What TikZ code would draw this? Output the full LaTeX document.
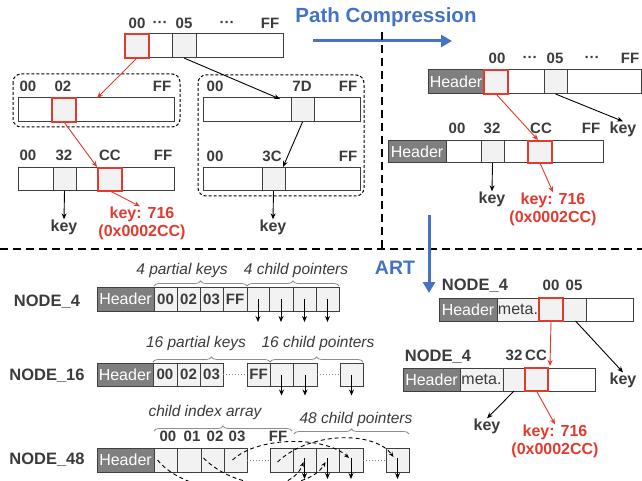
\documentclass[tikz,border=0pt]{standalone}
\usepackage{fontspec}
\setmainfont{Liberation Sans}
\usetikzlibrary{arrows.meta,decorations.pathreplacing}
\definecolor{bordc}{HTML}{3F3F3F}
\definecolor{lgrey}{HTML}{F2F2F2}
\definecolor{hgrey}{HTML}{7F7F7F}
\definecolor{txtc}{HTML}{3B3B3B}
\definecolor{myred}{RGB}{226,58,47}
\definecolor{blueC}{HTML}{4472C4}
\definecolor{bracec}{HTML}{8C8C8C}
\newcommand\bx[7]{\node[#6,minimum width={(#3-#2)*1pt},minimum height={(#5-#4)*1pt}] (#1) at ({(#2+#3)/2},{(#4+#5)/2}) {#7};}
\tikzset{
 cellb/.style={draw=bordc,line width=1pt,fill=white,inner sep=0pt,outer sep=0pt},
 gcell/.style={cellb,fill=lgrey},
 rcell/.style={cellb,fill=lgrey,draw=myred,line width=2pt},
 hdr/.style={cellb,fill=hgrey,text=white,font=\fontsize{16}{18}\selectfont},
 meta/.style={cellb,fill=lgrey,text=txtc,font=\fontsize{16}{18}\selectfont},
 kcell/.style={gcell,text=txtc,font=\fontsize{15}{17}\selectfont\bfseries},
 lbl/.style={font=\fontsize{15}{17}\selectfont\bfseries,text=txtc,inner sep=0pt},
 klbl/.style={font=\fontsize{16}{18}\selectfont\bfseries,text=txtc,inner sep=0pt},
 rlbl/.style={font=\fontsize{16}{18}\selectfont\bfseries,text=myred,inner sep=0pt,align=center},
 nlbl/.style={font=\fontsize{16.5}{18}\selectfont\bfseries,text=txtc,inner sep=0pt},
 ilbl/.style={font=\fontsize{15.5}{18}\selectfont\itshape,text=txtc,inner sep=0pt},
 ttl/.style={font=\fontsize{20.5}{22}\selectfont\bfseries,text=blueC,inner sep=0pt},
 arr/.style={-{Stealth[length=6pt,width=5pt]},line width=0.9pt,black},
 rarr/.style={arr,myred},
 brc/.style={decorate,decoration={brace,amplitude=5pt},draw=bracec,line width=0.8pt},
 dbox/.style={draw=black,dash pattern=on 3pt off 2pt,rounded corners=8pt,line width=1pt},
 sep/.style={line width=2.5pt,dash pattern=on 8pt off 5pt,black},
 barr/.style={-{Triangle[length=11pt,width=12pt]},line width=3pt,blueC},
 dcurve/.style={dash pattern=on 4pt off 3pt,line width=0.9pt,-{Stealth[length=5pt,width=4pt]}},
 dotl/.style={dash pattern=on 1pt off 2pt,line width=1pt,draw=gray},
}
\begin{document}
\begin{tikzpicture}[x=1pt,y=-1pt]
\path[use as bounding box,fill=white] (0,0) rectangle (642,481);

% ---------- top-left: uncompressed trie ----------
\node[lbl] (a1) at (137,23) {00};
\node[lbl] (a2) at (160,24) {···};
\node[lbl] (a3) at (184,23) {05};
\node[lbl] (a4) at (227,24) {···};
\node[lbl] (a5) at (270,23) {FF};
\bx{r}{125}{283}{34}{58}{cellb}{}
\bx{r05}{172}{196}{34}{58}{gcell}{}
\bx{r00}{125}{149}{34}{58}{rcell}{}

\draw[dbox] (13,74) rectangle (180,127);
\node[lbl] (b1) at (28,86) {00};
\node[lbl] (b2) at (63,86) {02};
\node[lbl] (b3) at (162,86) {FF};
\bx{L1}{18}{174}{98}{122}{cellb}{}
\bx{L1r}{52}{76}{98}{122}{rcell}{}

\node[lbl] (c1) at (28,155) {00};
\node[lbl] (c2) at (64,155) {32};
\node[lbl] (c3) at (110,155) {CC};
\node[lbl] (c4) at (163,155) {FF};
\bx{L2}{18}{174}{168}{191}{cellb}{}
\bx{L2g}{53}{76}{168}{191}{gcell}{}
\bx{L2r}{98}{122}{168}{191}{rcell}{}

\draw[dbox] (198,75) rectangle (364,196);
\node[lbl] (d1) at (215,86) {00};
\node[lbl] (d2) at (302,86) {7D};
\node[lbl] (d3) at (348,86) {FF};
\bx{R1}{203}{360}{98}{122}{cellb}{}
\bx{R1g}{291}{314}{98}{122}{gcell}{}
\node[lbl] (e1) at (215,156) {00};
\node[lbl] (e2) at (272,156) {3C};
\node[lbl] (e3) at (348,156) {FF};
\bx{R2}{203}{360}{168}{191}{cellb}{}
\bx{R2g}{262}{285}{168}{191}{gcell}{}

\coordinate (L1in) at (97,98);
\coordinate (R1in) at (280,99);
\coordinate (L2in) at (97,167);
\coordinate (R2in) at (283,167);
\draw[rarr] (r00.south) -- (L1in);
\draw[arr] (r05.south) -- (R1in);
\draw[rarr] (L1r.south) -- (L2in);
\draw[arr] (R1g.south) -- (R2in);
\node[klbl] (k1) at (64,227) {key};
\draw[arr] (L2g.south) -- (k1.north);
\node[klbl] (k2) at (273,227) {key};
\draw[arr] (R2g.south) -- (k2.north);
\node[rlbl] (v1) at (142,223) {key: 716\\(0x0002CC)};
\draw[rarr] (L2r.south) -- ([xshift=-2pt]v1.north);

% ---------- separators and titles ----------
\node[ttl] (pc) at (386,17) {Path Compression};
\coordinate (pcA) at (313,41);
\coordinate (pcB) at (452,41);
\draw[barr] (pcA) -- (pcB);
\coordinate (vs1) at (382,32);
\coordinate (vs2) at (382,249);
\draw[sep] (vs1) -- (vs2);
\coordinate (hs1) at (0,249);
\coordinate (hs2) at (642,249);
\draw[sep] (hs1) -- (hs2);
\node[ttl,font=\fontsize{19.5}{22}\selectfont\bfseries] (art) at (395,268) {ART};
\coordinate (artA) at (429,215);
\coordinate (artB) at (429,293);
\draw[barr] (artA) -- (artB);

% ---------- top-right: path compression ----------
\node[lbl] (f1) at (497,58) {00};
\node[lbl] (f2) at (530,59) {···};
\node[lbl] (f3) at (555,58) {05};
\node[lbl] (f4) at (592,59) {···};
\node[lbl] (f5) at (630,58) {FF};
\bx{T1}{428}{641}{70}{94}{cellb}{}
\bx{T1h}{428}{484}{70}{94}{hdr}{Header}
\bx{T1g}{544}{567}{70}{94}{gcell}{}
\bx{T1r}{484}{508}{70}{94}{rcell}{}

\node[lbl] (g1) at (457,128) {00};
\node[lbl] (g2) at (492,128) {32};
\node[lbl] (g3) at (541,128) {CC};
\node[lbl] (g4) at (591,128) {FF};
\bx{T2}{388}{603}{141}{163}{cellb}{}
\bx{T2h}{388}{446}{141}{163}{hdr}{Header}
\bx{T2g}{481}{504}{141}{163}{gcell}{}
\bx{T2r}{528}{552}{141}{163}{rcell}{}

\node[klbl] (k3) at (623,129) {key};
\draw[arr] (T1g.south) -- (k3.north);
\coordinate (T2in) at (538,140);
\draw[rarr] (T1r.south) -- (T2in);
\node[klbl] (k4) at (492,199) {key};
\draw[arr] (T2g.south) -- (k4.north);
\node[rlbl] (v2) at (553,209) {key: 716\\(0x0002CC)};
\draw[rarr] (T2r.south) -- (v2.north);

% ---------- bottom-right: ART ----------
\node[nlbl] (n1) at (475,286) {NODE\_4};
\node[lbl] (h1) at (551,285) {00};
\node[lbl] (h2) at (574,285) {05};
\bx{B1}{439}{633}{298}{321}{cellb}{}
\bx{B1h}{439}{497}{298}{321}{hdr}{Header}
\bx{B1m}{497}{539}{298}{321}{meta}{meta.}
\bx{B1g}{563}{586}{298}{321}{gcell}{}
\bx{B1r}{539}{563}{298}{321}{rcell}{}

\node[nlbl] (n2) at (438,357) {NODE\_4};
\node[lbl] (h3) at (514,355) {32};
\node[lbl] (h4) at (536,355) {CC};
\bx{B2}{403}{595}{368}{391}{cellb}{}
\bx{B2h}{403}{460}{368}{391}{hdr}{Header}
\bx{B2m}{460}{503}{368}{391}{meta}{meta.}
\bx{B2g}{503}{525}{368}{391}{gcell}{}
\bx{B2r}{525}{548}{368}{391}{rcell}{}

\coordinate (B2in) at (550,366);
\draw[rarr] (B1r.south) -- (B2in);
\node[klbl] (k5) at (623,380) {key};
\draw[arr] ([xshift=1pt]B1g.south) -- (k5.north);
\node[klbl] (k6) at (487,426) {key};
\draw[arr] (B2g.south) -- (k6.north);
\node[rlbl] (v3) at (555,441) {key: 716\\(0x0002CC)};
\draw[rarr] (B2r.south) -- (v3.north);

% ---------- bottom-left: node types ----------
% NODE_4
\node[nlbl] (m1) at (47,302) {NODE\_4};
\bx{N4}{97}{339}{287}{311}{cellb}{}
\bx{N4h}{97}{154}{287}{311}{hdr}{Header}
\bx{N4a}{154}{177}{287}{311}{kcell}{00}
\bx{N4b}{177}{200}{287}{311}{kcell}{02}
\bx{N4c}{200}{223}{287}{311}{kcell}{03}
\bx{N4d}{223}{247}{287}{311}{kcell}{FF}
\bx{N4p1}{247}{269}{287}{311}{gcell}{}
\bx{N4p2}{269}{293}{287}{311}{gcell}{}
\bx{N4p3}{293}{316}{287}{311}{gcell}{}
\bx{N4p4}{316}{339}{287}{311}{gcell}{}
\foreach \p in {N4p1,N4p2,N4p3,N4p4}{\draw[arr] (\p.center) -- ++(0,23);}
\draw[brc] ([yshift=1pt]N4a.north west) -- ([yshift=1pt]N4d.north east);
\draw[brc] ([yshift=1pt]N4p1.north west) -- ([yshift=1pt]N4p4.north east);
\node[ilbl] (i1) at (182,270) {4 partial keys};
\node[ilbl] (i2) at (296,270) {4 child pointers};

% NODE_16
\node[nlbl] (m2) at (47,376) {NODE\_16};
\bx{N16h}{97}{153}{363}{386}{hdr}{Header}
\bx{N16a}{153}{177}{363}{386}{kcell}{00}
\bx{N16b}{177}{200}{363}{386}{kcell}{02}
\bx{N16c}{200}{223}{363}{386}{kcell}{03}
\bx{N16d}{247}{270}{363}{386}{kcell}{FF}
\bx{N16p1}{270}{293}{363}{386}{gcell}{}
\bx{N16p2}{293}{317}{363}{386}{gcell}{}
\bx{N16p3}{340}{363}{363}{386}{gcell}{}
\draw[dotl] (N16c.east) -- (N16d.west);
\draw[dotl] (N16p2.east) -- (N16p3.west);
\foreach \p in {N16p1,N16p2,N16p3}{\draw[arr] (\p.center) -- ++(0,21);}
\draw[brc] ([yshift=1pt]N16a.north west) -- ([yshift=1pt]N16d.north east);
\draw[brc] ([yshift=1pt]N16p1.north west) -- ([yshift=1pt]N16p3.north east);
\node[ilbl] (i3) at (196,343) {16 partial keys};
\node[ilbl] (i4) at (318,343) {16 child pointers};

% NODE_48
\node[nlbl] (m3) at (47,460) {NODE\_48};
\bx{N48h}{97}{154}{448}{472}{hdr}{Header}
\bx{x00}{154}{177}{448}{472}{gcell}{}
\bx{x01}{177}{201}{448}{472}{gcell}{}
\bx{x02}{201}{224}{448}{472}{gcell}{}
\bx{x03}{224}{247}{448}{472}{gcell}{}
\bx{xFF}{270}{293}{448}{472}{gcell}{}
\bx{q1}{293}{316}{448}{472}{gcell}{}
\bx{q2}{316}{339}{448}{472}{gcell}{}
\bx{q3}{339}{363}{448}{472}{gcell}{}
\bx{q4}{386}{409}{448}{472}{gcell}{}
\draw[dotl] (x03.east) -- (xFF.west);
\draw[dotl] (q3.east) -- (q4.west);
\node[lbl] (j1) at (168,436) {00};
\node[lbl] (j2) at (192,436) {01};
\node[lbl] (j3) at (215,436) {02};
\node[lbl] (j4) at (237,436) {03};
\node[lbl] (j5) at (278,436) {FF};
\coordinate (br1) at (154,431);
\coordinate (br2) at (292,431);
\coordinate (br3) at (294,434);
\coordinate (br4) at (409,434);
\draw[brc] (br1) -- (br2);
\draw[brc] (br3) -- (br4);
\node[ilbl] (i5) at (205,412) {child index array};
\node[ilbl] (i6) at (356,419) {48 child pointers};
\foreach \p in {q1,q2,q3,q4}{\draw[arr] ([yshift=2pt]\p.center) -- ++(0,21);}
\draw[dcurve] ([xshift=-8pt]x00.center) .. controls (190,500) and (290,500) .. ([xshift=-1pt,yshift=-2pt]q1.center);
\draw[dcurve] ([xshift=-9pt,yshift=2pt]x02.center) .. controls (240,495) and (310,490) .. ([xshift=-2pt,yshift=-2pt]q2.center);
\draw[dcurve] ([xshift=-3pt]x03.center) .. controls (258,436) and (325,436) .. ([xshift=-2pt,yshift=2pt]q3.center);
\draw[dcurve] ([xshift=-4pt,yshift=-2pt]xFF.center) .. controls (310,431) and (375,431) .. ([xshift=-4pt,yshift=3pt]q4.center);
\end{tikzpicture}
\end{document}
